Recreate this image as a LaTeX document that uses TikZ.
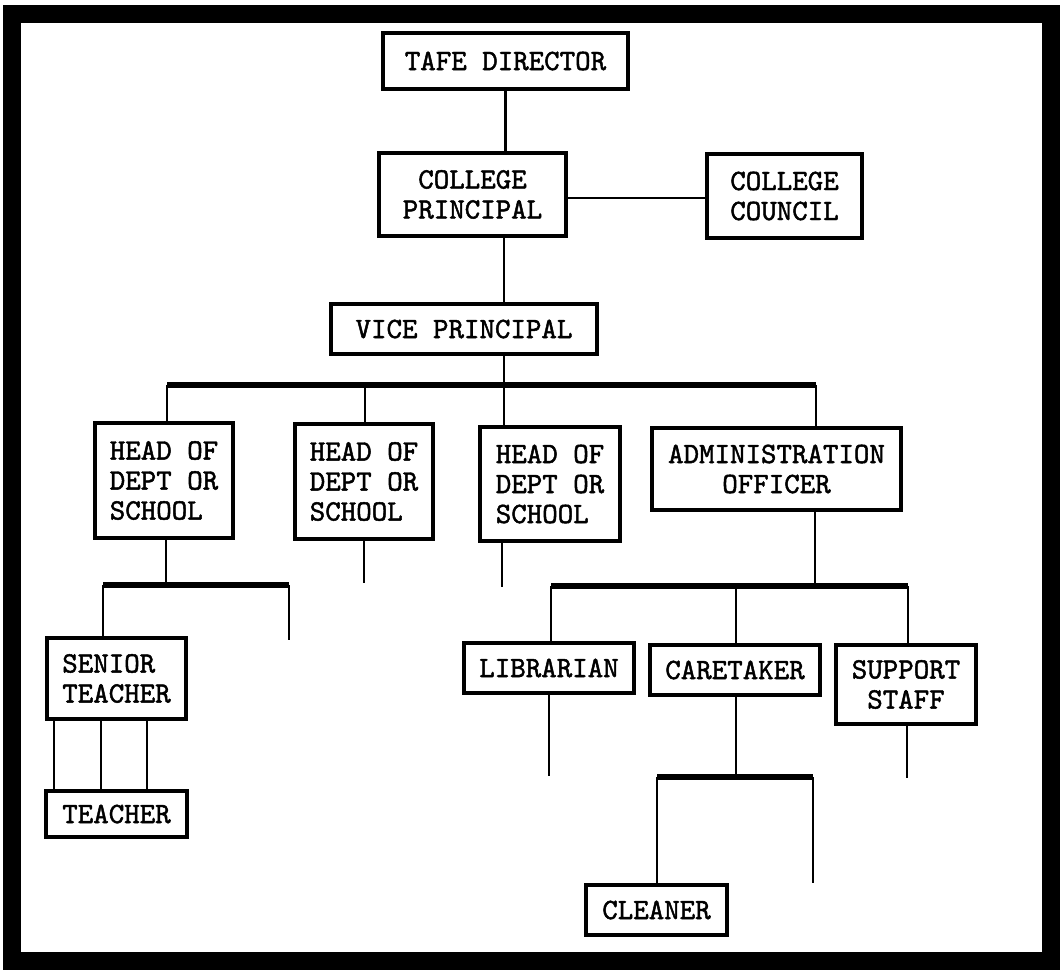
\documentclass[tikz,border=0pt]{standalone}
\usepackage{fontspec}
\newfontfamily\cour{lmmono10-regular.otf}[FakeBold=1.6]
\begin{document}
\begin{tikzpicture}[x=1pt,y=-1pt,
  box/.style={draw,line width=3.2pt,inner sep=0pt,outer sep=0pt,
    font=\cour\fontsize{29.5}{30}\selectfont,align=center},
  boxl/.style={box,align=left},
  thin/.style={line width=2.4pt},
  bus/.style={line width=6pt}]
\useasboundingbox (0,0) rectangle (1060,973);
\draw[line width=18pt] (12,14) rectangle (1051,961);
% nodes
\node[box,minimum width=245pt,minimum height=56pt] (td) at (505.5,61) {TAFE DIRECTOR};
\node[box,minimum width=187pt,minimum height=83pt] (cp) at (472.5,194.5) {COLLEGE\\PRINCIPAL};
\node[box,minimum width=155pt,minimum height=84pt] (cc) at (784.5,196) {COLLEGE\\COUNCIL};
\node[box,minimum width=266pt,minimum height=50pt] (vp) at (464,329) {VICE PRINCIPAL};
\node[boxl,minimum width=138pt,minimum height=115pt] (h1) at (164,480.5) {HEAD OF\\DEPT OR\\SCHOOL};
\node[boxl,minimum width=138pt,minimum height=115pt] (h2) at (364,481.5) {HEAD OF\\DEPT OR\\SCHOOL};
\node[boxl,minimum width=140pt,minimum height=114pt] (h3) at (550,484) {HEAD OF\\DEPT OR\\SCHOOL};
\node[box,minimum width=249pt,minimum height=82pt] (ao) at (776.5,469) {ADMINISTRATION\\OFFICER};
\node[boxl,minimum width=139pt,minimum height=81pt] (st) at (116.5,678.5) {SENIOR\\TEACHER};
\node[box,minimum width=141pt,minimum height=46pt] (te) at (116.5,814) {TEACHER};
\node[box,minimum width=170pt,minimum height=50pt] (li) at (549,668) {LIBRARIAN};
\node[box,minimum width=170pt,minimum height=50pt] (ct) at (735,670) {CARETAKER};
\node[box,minimum width=140pt,minimum height=79pt] (ss) at (906,684.5) {SUPPORT\\STAFF};
\node[box,minimum width=141pt,minimum height=50pt] (cl) at (656.5,910) {CLEANER};
% coordinates
\coordinate (b1) at (167,385);
\coordinate (b2) at (365,385);
\coordinate (b3) at (504,385);
\coordinate (b4) at (816,385);
\coordinate (s1) at (103,585);
\coordinate (s0) at (166,585);
\coordinate (s2) at (289,585);
\coordinate (s2e) at (289,640);
\coordinate (h2e) at (364,583);
\coordinate (h3e) at (502,587);
\coordinate (a1) at (551,586);
\coordinate (a0) at (815,586);
\coordinate (a2) at (736,586);
\coordinate (a3) at (908,586);
\coordinate (lie) at (549,776);
\coordinate (c1) at (657,777);
\coordinate (c0) at (736,777);
\coordinate (c2) at (813,777);
\coordinate (c2e) at (813,883);
\coordinate (sse) at (907,778);
% connectors
\draw[thin] (td.south) -- (td.south |- cp.north);
\draw[thin] (cp.east |- 0,198) -- (cc.west |- 0,198);
\draw[thin] (b3 |- cp.south) -- (b3 |- vp.north);
\draw[thin] (b3 |- vp.south) -- (b3);
\draw[bus] (b1) -- (b4);
\draw[thin] (b1) -- (b1 |- h1.north);
\draw[thin] (b2) -- (b2 |- h2.north);
\draw[thin] (b3) -- (b3 |- h3.north);
\draw[thin] (b4) -- (b4 |- ao.north);
% head 1
\draw[thin] (s0 |- h1.south) -- (s0);
\draw[bus] (s1) -- (s2);
\draw[thin] (s2) -- (s2e);
\draw[thin] (s1) -- (s1 |- st.north);
\draw[thin] (54,0 |- st.south) -- (54,0 |- te.north);
\draw[thin] (101,0 |- st.south) -- (101,0 |- te.north);
\draw[thin] (147,0 |- st.south) -- (147,0 |- te.north);
% heads 2,3
\draw[thin] (h2e |- h2.south) -- (h2e);
\draw[thin] (h3e |- h3.south) -- (h3e);
% admin
\draw[thin] (a0 |- ao.south) -- (a0);
\draw[bus] (a1) -- (a3);
\draw[thin] (a1) -- (a1 |- li.north);
\draw[thin] (a2) -- (a2 |- ct.north);
\draw[thin] (a3) -- (a3 |- ss.north);
\draw[thin] (lie |- li.south) -- (lie);
\draw[thin] (c0 |- ct.south) -- (c0);
\draw[bus] (c1) -- (c2);
\draw[thin] (c1) -- (c1 |- cl.north);
\draw[thin] (c2) -- (c2e);
\draw[thin] (sse |- ss.south) -- (sse);
\end{tikzpicture}
\end{document}
